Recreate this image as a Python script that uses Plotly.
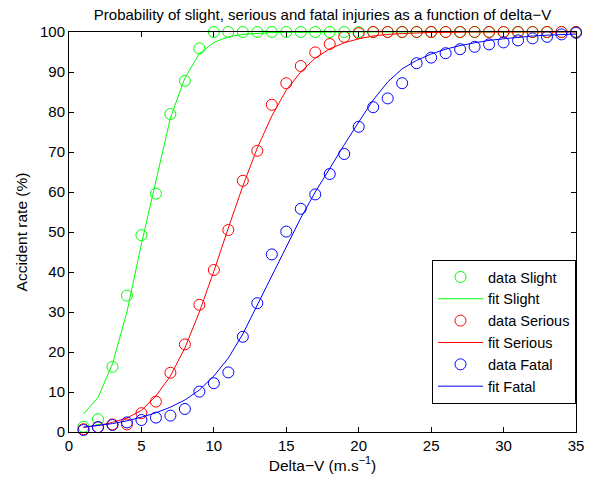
import plotly.graph_objects as go

x_vals = list(range(1, 36))

slight_data = [1.3, 3.2, 16.3, 34.1, 49.2, 59.6, 79.5, 87.8, 95.9] + [100] * 26
slight_fit = [4.5, 8.6, 17, 30, 47, 63, 78.5, 88.5, 94.6, 97.4, 98.8, 99.4, 99.7, 99.85, 99.9,
              99.95, 100, 100, 100, 100, 100, 100, 100, 100, 100, 100, 100, 100, 100, 100,
              100, 100, 100, 100, 100]

serious_data = [0.7, 1.2, 1.9, 1.9, 4.7, 7.6, 14.8, 21.9, 31.8, 40.5, 50.5, 62.8, 70.3, 81.8,
                87.2, 91.5, 94.9, 97.0, 98.8, 99.7] + [100] * 15
serious_fit = [1.2, 1.6, 2.4, 3.5, 5.4, 9.0, 14.0, 21.0, 30.0, 40.2, 51.0, 61.5, 71.0, 79.0,
               85.5, 90.0, 93.5, 95.8, 97.3, 98.3, 99.0, 99.4, 99.6, 99.8, 99.9, 99.9, 100,
               100, 100, 100, 100, 100, 100, 100, 100]

fatal_data = [0.5, 1.2, 1.75, 2.4, 3.0, 3.6, 4.1, 5.75, 10.1, 12.2, 14.9, 23.8, 32.2, 44.4,
              50.1, 55.8, 59.4, 64.5, 69.5, 76.3, 81.2, 83.4, 87.2, 92.2, 93.6, 94.7, 95.7,
              96.3, 96.9, 97.4, 97.9, 98.4, 98.8, 99.4, 99.8]
fatal_fit = [1.2, 1.6, 2.1, 2.8, 3.7, 4.8, 6.2, 8.0, 10.5, 14.0, 18.5, 24.5, 31.8, 39.3,
             46.5, 53.5, 60.0, 66.0, 71.8, 77.5, 83.0, 87.5, 90.8, 92.9, 94.5, 95.7, 96.6,
             97.3, 97.9, 98.3, 98.7, 99.0, 99.2, 99.4, 99.5]

x_ticks = [0, 5, 10, 15, 20, 25, 30, 35]
y_ticks = [0, 10, 20, 30, 40, 50, 60, 70, 80, 90, 100]

GREEN = "#00ff00"
RED = "#ff0000"
BLUE = "#0000ff"

fig = go.Figure()

def add_pair(data, fit, color, name):
    fig.add_trace(go.Scatter(
        x=x_vals, y=data, mode="markers", name="data " + name,
        marker=dict(symbol="circle-open", size=11, color=color, line=dict(width=1, color=color)),
        cliponaxis=False,
    ))
    fig.add_trace(go.Scatter(
        x=x_vals, y=fit, mode="lines", name="fit " + name,
        line=dict(color=color, width=1),
        cliponaxis=False,
    ))

add_pair(slight_data, slight_fit, GREEN, "Slight")
add_pair(serious_data, serious_fit, RED, "Serious")
add_pair(fatal_data, fatal_fit, BLUE, "Fatal")

font_family = "Liberation Sans, Arial, Helvetica, sans-serif"

axis_common = dict(
    showline=True, linecolor="black", linewidth=1, mirror="ticks",
    ticks="inside", ticklen=5, tickwidth=1, tickcolor="black",
    showgrid=False, zeroline=False,
    tickfont=dict(size=15, color="black", family=font_family),
)

fig.update_layout(
    width=595, height=479,
    margin=dict(l=69, r=19, t=32, b=47),
    paper_bgcolor="white", plot_bgcolor="white",
    font=dict(family=font_family, color="black", size=15),
    title=dict(
        text="Probability of slight, serious and fatal injuries as a function of delta\u2212V",
        x=0.5, xref="paper", xanchor="center", y=1 - 15 / 479, yanchor="middle",
        font=dict(size=15, color="black", family=font_family),
    ),
    xaxis=dict(
        range=[0, 35], tickvals=x_ticks, ticktext=[str(v) for v in x_ticks],
        title=dict(text="Delta\u2212V (m.s<sup>\u22121</sup>)", font=dict(size=15.5, family=font_family), standoff=3),
        **axis_common,
    ),
    yaxis=dict(
        range=[0, 100], tickvals=y_ticks, ticktext=[str(v) for v in y_ticks],
        title=dict(text="Accident rate (%)", font=dict(size=15.5, family=font_family), standoff=8),
        **axis_common,
    ),
    legend=dict(
        x=1.0, y=0.07, xanchor="right", yanchor="bottom",
        bgcolor="white", bordercolor="black", borderwidth=1,
        font=dict(size=14.5, color="black", family=font_family),
        itemwidth=45, tracegroupgap=0,
    ),
    showlegend=True,
)

fig.write_html("out.html")
